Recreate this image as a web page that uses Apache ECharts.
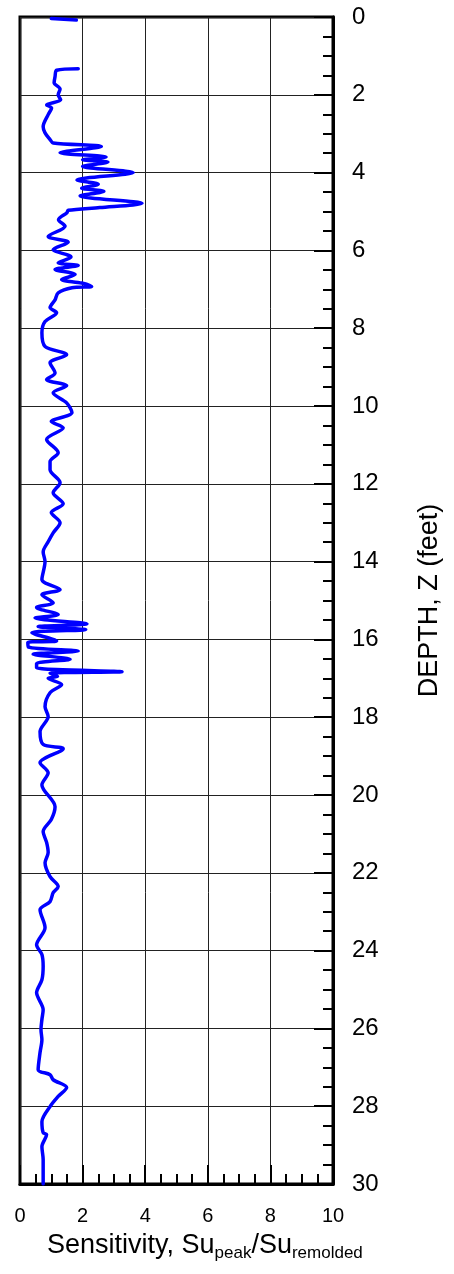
<!DOCTYPE html>
<html>
<head>
<meta charset="utf-8">
<script src="https://cdn.jsdelivr.net/npm/echarts@6/dist/echarts.min.js"></script>
<style>
  html, body { margin: 0; padding: 0; background: #fff; }
  #chart { width: 454px; height: 1274px; }
</style>
</head>
<body>
<div id="chart"></div>
<script>
// Sensitivity profile with depth (null marks a gap in the record)
const depthFt = [
  0.04, 0.08, null,
  1.33, 1.37, 1.53, 1.69, 1.85, 2.0, 2.13, 2.26, 2.34, 2.51, 2.82, 2.98, 3.15, 3.24,
  3.33, 3.49, 3.6, 3.67, 3.73, 3.84, 4.0, 4.19, 4.3, 4.4, 4.48, 4.6, 4.79, 4.9, 4.97,
  5.03, 5.21, 5.38, 5.64, 5.79, 5.98, 6.17, 6.32, 6.39, 6.49, 6.62, 6.75, 6.84, 6.93,
  6.96, 7.09, 7.27, 7.47, 7.6, 7.83, 8.12, 8.47, 8.68, 8.89, 9.15, 9.32, 9.48, 9.66,
  9.92, 10.17, 10.4, 10.56, 10.86, 11.2, 11.43, 11.64, 11.97, 12.23, 12.51, 12.74,
  13.0, 13.26, 13.49, 13.75, 14.0, 14.46, 14.72, 14.85, 15.06, 15.18, 15.36, 15.45,
  15.6, 15.67, 15.75, 15.83, 16.04, 16.08, 16.2, 16.3, 16.38, 16.51, 16.62, 16.73,
  16.83, 16.87, 16.95, 17.0, 17.16, 17.37, 17.73, 17.98, 18.37, 18.7, 18.81, 19.17,
  19.43, 19.74, 20.3, 20.63, 20.94, 21.22, 21.48, 21.74, 22.1, 22.35, 22.51, 22.74,
  22.95, 23.41, 23.85, 24.1, 24.4, 24.75, 25.08, 25.52, 25.77, 26.03, 26.29, 26.62,
  27.06, 27.19, 27.32, 27.52, 27.75, 28.01, 28.4, 28.68, 28.73, 29.04, 29.37, 30.0
];
const sensitivity = [
  1.0, 1.8, null,
  1.86, 1.17, 1.12, 1.09, 1.28, 1.22, 1.3, 0.85, 1.01, 0.9, 0.74, 0.8, 0.96, 1.06,
  2.6, 1.28, 2.75, 2.0, 2.81, 2.0, 3.62, 1.82, 2.5, 1.97, 2.68, 1.92, 3.9, 2.55, 1.54,
  1.5, 1.23, 1.44, 0.9, 1.54, 1.06, 1.63, 1.22, 1.86, 1.12, 1.76, 1.33, 1.97, 2.29,
  1.66, 1.22, 1.12, 0.96, 1.17, 0.8, 0.7, 0.8, 1.49, 0.96, 1.12, 0.85, 1.49, 1.06,
  1.49, 1.66, 1.0, 1.38, 0.85, 1.22, 0.96, 0.96, 1.28, 1.06, 1.38, 1.0,
  1.28, 1.06, 0.9, 0.74, 0.8, 0.7, 1.28, 0.7, 1.06, 0.53, 1.22, 0.48,
  2.14, 0.58, 2.1, 0.38, 1.17, 0.25, 0.27, 1.86, 0.42, 1.6, 0.53, 0.53,
  3.26, 0.96, 1.2, 0.9, 1.33, 0.96, 0.8, 0.9, 0.64, 0.74, 1.38, 0.64,
  0.9, 0.7, 1.12, 1.0, 0.74, 0.85, 0.9, 0.8, 0.96, 1.22, 1.06, 0.96,
  0.64, 0.8, 0.53, 0.7, 0.74, 0.7, 0.53, 0.74, 0.7, 0.67, 0.7, 0.64,
  0.58, 0.96, 1.06, 1.49, 1.22, 0.96, 0.7, 0.74, 0.85, 0.7, 0.74, 0.74
];

const xRange = [0, 10];
const depthRange = [0, 30];
const xLabel = { main1: 'Sensitivity, Su', sub1: 'peak', main2: '/Su', sub2: 'remolded' };
const depthLabel = 'DEPTH, Z (feet)';

const font = "'Liberation Sans', Arial, sans-serif";

const points = depthFt.map((d, i) =>
  (d === null || sensitivity[i] === null) ? ['-', '-'] : [sensitivity[i], d]
);

const chart = echarts.init(document.getElementById('chart'), null, { renderer: 'canvas' });

chart.setOption({
  animation: false,
  backgroundColor: '#ffffff',
  title: {
    left: 42,
    top: 1225,
    text: `{m|${xLabel.main1}}{s|${xLabel.sub1}}{m|${xLabel.main2}}{s|${xLabel.sub2}}`,
    textStyle: {
      fontWeight: 'normal',
      rich: {
        m: { fontFamily: font, fontSize: 27, fontWeight: 'normal', color: '#000', lineHeight: 32, verticalAlign: 'middle' },
        s: { fontFamily: font, fontSize: 17, fontWeight: 'normal', color: '#000', lineHeight: 16, verticalAlign: 'bottom' }
      }
    }
  },
  grid: {
    left: 20, top: 17, right: 121, bottom: 90,
    show: true, borderColor: '#000', borderWidth: 3, backgroundColor: 'transparent'
  },
  xAxis: {
    type: 'value',
    position: 'bottom',
    min: xRange[0], max: xRange[1], interval: 2,
    axisLine: { show: true, onZero: false, lineStyle: { color: '#000', width: 3 } },
    axisTick: { show: true, inside: true, length: 19, lineStyle: { color: '#000', width: 2 } },
    minorTick: { show: true, splitNumber: 4, length: 10, lineStyle: { color: '#000', width: 2 } },
    splitLine: { show: true, lineStyle: { color: '#222', width: 1 } },
    axisLabel: { color: '#000', fontFamily: font, fontSize: 20, margin: 22 }
  },
  yAxis: {
    type: 'value',
    position: 'right',
    inverse: true,
    min: depthRange[0], max: depthRange[1], interval: 2,
    name: depthLabel,
    nameLocation: 'middle',
    nameRotate: 90,
    nameGap: 83,
    nameTextStyle: { color: '#000', fontFamily: font, fontSize: 27 },
    axisLine: { show: true, onZero: false, lineStyle: { color: '#000', width: 3 } },
    axisTick: { show: true, inside: true, length: 19, lineStyle: { color: '#000', width: 2 } },
    minorTick: { show: true, splitNumber: 4, length: 10, lineStyle: { color: '#000', width: 2 } },
    splitLine: { show: true, lineStyle: { color: '#222', width: 1 } },
    axisLabel: { color: '#000', fontFamily: font, fontSize: 24, margin: 19 }
  },
  series: [{
    type: 'line',
    data: points,
    symbol: 'none',
    smooth: 0.3,
    connectNulls: false,
    lineStyle: { color: '#0000ff', width: 3.5, join: 'round', cap: 'round' },
    z: 5
  }]
});
</script>
</body>
</html>
